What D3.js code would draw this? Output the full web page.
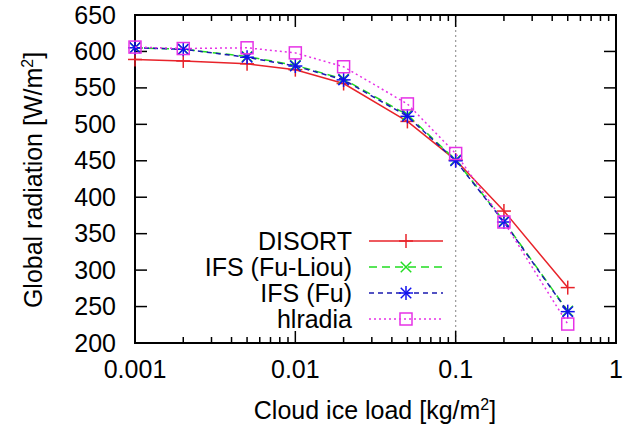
<!DOCTYPE html>
<html><head><meta charset="utf-8">
<script src="https://cdn.jsdelivr.net/npm/d3@7"></script>
<style>body{margin:0;background:#fff}text{font-family:"Liberation Sans",Arial,sans-serif;fill:#000}</style>
</head><body><svg id="c" width="634" height="432"></svg>
<script>
const xValues = [0.001, 0.002, 0.005, 0.01, 0.02, 0.05, 0.1, 0.2, 0.5];
const disort  = [589, 587, 583, 575, 556, 504, 451, 381, 276];
const ifsFuLiou = [605, 603, 593, 581, 562, 513, 451, 367, 244];
const ifsFu   = [605, 603, 592, 580, 561, 511, 450, 366, 243];
const hlradia = [606, 604, 605, 598, 579, 528, 460, 366, 226];
const seriesNames = ["DISORT", "IFS (Fu-Liou)", "IFS (Fu)", "hlradia"];
const xTickLabels = ["0.001", "0.01", "0.1", "1"];
const yTicks = [200, 250, 300, 350, 400, 450, 500, 550, 600, 650];

const svg = d3.select("#c");
const L = 135, R = 616, T = 15, B = 343;
const x = d3.scaleLog().domain([0.001, 1]).range([L, R]);
const y = d3.scaleLinear().domain([200, 650]).range([B, T]);
const FS = 25;

// dotted vertical line at 0.1
svg.append("line").attr("x1", x(0.1)).attr("x2", x(0.1)).attr("y1", T).attr("y2", B)
  .attr("stroke", "#999").attr("stroke-width", 1.2).attr("stroke-dasharray", "2,3");

// ticks
const g = svg.append("g");
const majors = [0.001, 0.01, 0.1, 1];
const minors = [];
[0.001, 0.01, 0.1].forEach(d => { for (let k = 2; k <= 9; k++) minors.push(d * k); });
const tk = (x1, y1, x2, y2) => g.append("line").attr("x1", x1).attr("y1", y1).attr("x2", x2).attr("y2", y2)
  .attr("stroke", "#000").attr("stroke-width", 1.5);
majors.forEach(v => { tk(x(v), B, x(v), B - 12); tk(x(v), T, x(v), T + 12); });
minors.forEach(v => { tk(x(v), B, x(v), B - 6); tk(x(v), T, x(v), T + 6); });
yTicks.forEach(v => { tk(L, y(v), L + 12, y(v)); tk(R, y(v), R - 12, y(v)); });

// tick labels
majors.forEach((v, i) => g.append("text").attr("x", x(v)).attr("y", 378).attr("text-anchor", "middle")
  .attr("font-size", FS).text(xTickLabels[i]));
yTicks.forEach(v => g.append("text").attr("x", 116).attr("y", y(v) + 8.5).attr("text-anchor", "end")
  .attr("font-size", FS).text(v));

// axis titles
const xt = svg.append("text").attr("x", 375).attr("y", 419).attr("text-anchor", "middle").attr("font-size", FS);
xt.append("tspan").text("Cloud ice load [kg/m");
xt.append("tspan").attr("dy", -9).attr("font-size", 16).text("2");
xt.append("tspan").attr("dy", 9).text("]");
const yt = svg.append("text").attr("transform", "translate(42,180) rotate(-90)").attr("text-anchor", "middle").attr("font-size", FS);
yt.append("tspan").text("Global radiation [W/m");
yt.append("tspan").attr("dy", -9).attr("font-size", 16).text("2");
yt.append("tspan").attr("dy", 9).text("]");

// frame
svg.append("rect").attr("x", L).attr("y", T).attr("width", R - L).attr("height", B - T)
  .attr("fill", "none").attr("stroke", "#000").attr("stroke-width", 2);

const series = [
  {name: seriesNames[0], vals: disort, color: "#e8232a", dash: null, marker: "plus"},
  {name: seriesNames[1], vals: ifsFuLiou, color: "#22dd22", dash: "8,5", marker: "cross"},
  {name: seriesNames[2], vals: ifsFu, color: "#1a1ab0", mcolor: "#1010ee", dash: "5,4", marker: "star"},
  {name: seriesNames[3], vals: hlradia, color: "#e632e6", dash: "2,3", marker: "square"}
];
const line = d3.line().x(d => x(d[0])).y(d => y(d[1]));
function marker(sel, type, cx, cy, color) {
  const s = 7;
  const ln = (a, b, c, d) => sel.append("line").attr("x1", a).attr("y1", b).attr("x2", c).attr("y2", d)
    .attr("stroke", color).attr("stroke-width", 1.5);
  if (type === "plus" || type === "star") { ln(cx - s, cy, cx + s, cy); ln(cx, cy - s, cx, cy + s); }
  if (type === "cross" || type === "star") { const t = s * 0.75; ln(cx - t, cy - t, cx + t, cy + t); ln(cx - t, cy + t, cx + t, cy - t); }
  if (type === "square") sel.append("rect").attr("x", cx - 6).attr("y", cy - 6).attr("width", 12).attr("height", 12)
    .attr("fill", "none").attr("stroke", color).attr("stroke-width", 1.5);
}
series.forEach(s => {
  const pts = xValues.map((v, i) => [v, s.vals[i]]);
  svg.append("path").attr("d", line(pts)).attr("fill", "none").attr("stroke", s.color)
    .attr("stroke-width", 1.5).attr("stroke-dasharray", s.dash);
  pts.forEach(p => marker(svg, s.marker, x(p[0]), y(p[1]), s.mcolor || s.color));
});

// legend
series.forEach((s, i) => {
  const yy = 241 + i * 26;
  svg.append("text").attr("x", 352).attr("y", yy + 8.5).attr("text-anchor", "end").attr("font-size", FS).text(s.name);
  svg.append("line").attr("x1", 369).attr("x2", 443).attr("y1", yy).attr("y2", yy).attr("stroke", s.color)
    .attr("stroke-width", 1.5).attr("stroke-dasharray", s.dash);
  marker(svg, s.marker, 406, yy, s.mcolor || s.color);
});
</script></body></html>
